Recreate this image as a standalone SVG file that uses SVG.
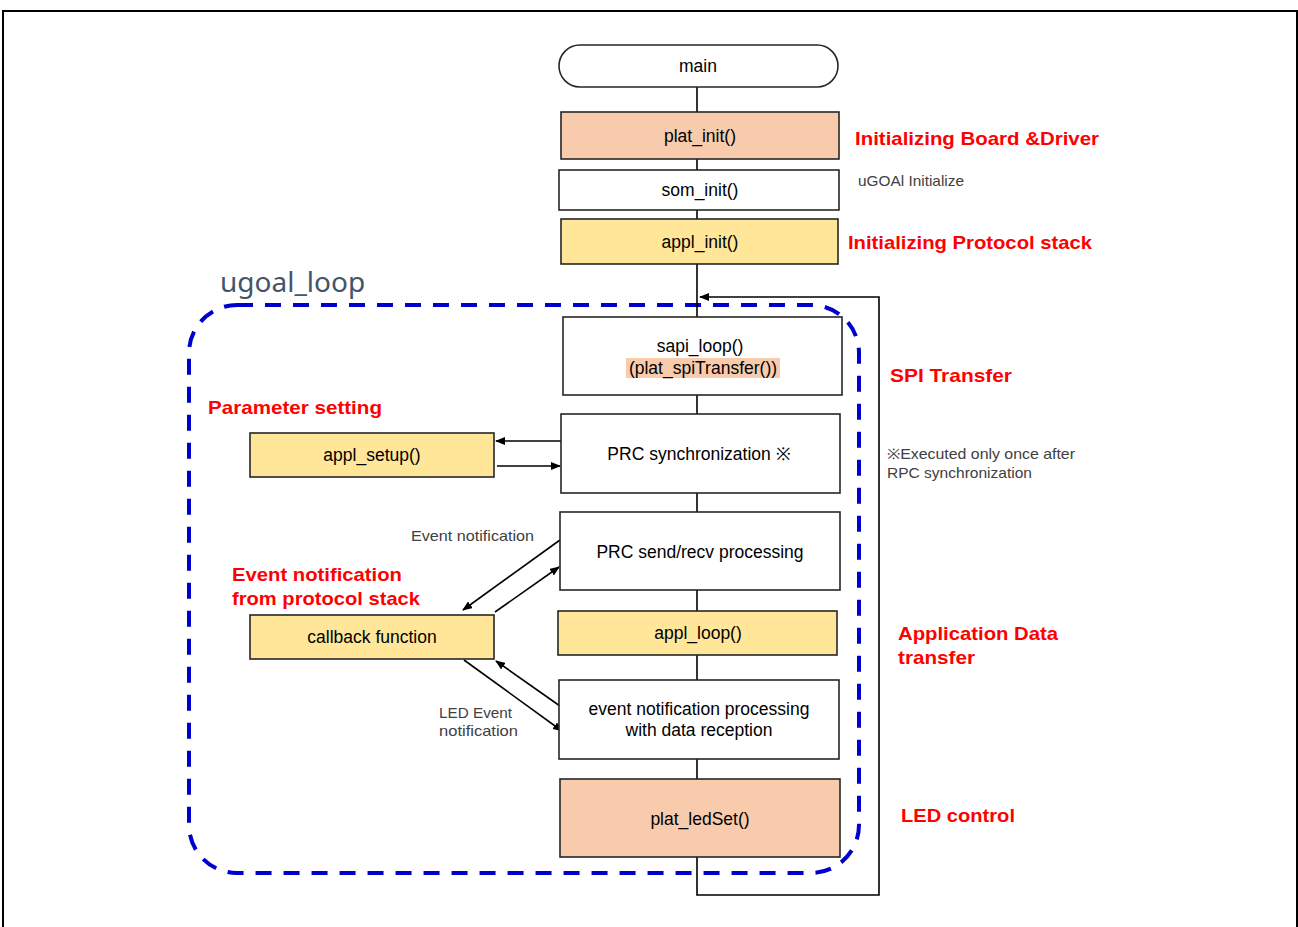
<svg xmlns="http://www.w3.org/2000/svg" width="1298" height="927" viewBox="0 0 1298 927">
<defs>
<marker id="ah" markerWidth="10" markerHeight="8" refX="9" refY="4" orient="auto" markerUnits="userSpaceOnUse">
<path d="M0,0 L10,4 L0,8 Z" fill="#000"/>
</marker>
<style>
.box{stroke:#262626;stroke-width:1.6}
.w{fill:#fff}
.o{fill:#F8CBAD}
.y{fill:#FFE699}
.t{font-family:"Liberation Sans",Arial,sans-serif;font-size:17.5px;fill:#000;text-anchor:middle}
.r{font-family:"Liberation Sans",Arial,sans-serif;font-size:19px;font-weight:bold;fill:#FF0000}
.g{font-family:"Liberation Sans",Arial,sans-serif;font-size:14.5px;fill:#404040}
.ln{stroke:#000;stroke-width:1.6;fill:none}
</style>
</defs>
<rect width="1298" height="927" fill="#fff"/>
<path d="M3,927 V11 H1297 V927" fill="none" stroke="#000" stroke-width="2"/>

<g id="loop-region">
<rect x="189" y="305" width="670" height="568" rx="48" ry="48" fill="none" stroke="#0000CC" stroke-width="4" stroke-dasharray="16,12"/>
<text x="220" y="292" font-family="'Noto Sans','Liberation Sans',sans-serif" font-size="28" fill="#44546A">ugoal_loop</text>
</g>

<g id="connectors">
<path class="ln" d="M697,87 V779"/>
<path class="ln" d="M697,857 V895 H879 V297 H700" marker-end="url(#ah)"/>
<line class="ln" x1="561" y1="441" x2="496" y2="441" marker-end="url(#ah)"/>
<line class="ln" x1="497" y1="466" x2="560" y2="466" marker-end="url(#ah)"/>
<line class="ln" x1="560" y1="540" x2="463" y2="610" marker-end="url(#ah)"/>
<line class="ln" x1="495" y1="612" x2="559" y2="567" marker-end="url(#ah)"/>
<line class="ln" x1="560" y1="706" x2="496" y2="661" marker-end="url(#ah)"/>
<line class="ln" x1="464" y1="660" x2="562" y2="731" marker-end="url(#ah)"/>
</g>

<g id="main">
<rect class="box w" x="559" y="45" width="279" height="42" rx="21" ry="21"/>
<text class="t" x="698" y="72">main</text>
</g>
<g id="plat_init">
<rect class="box o" x="561" y="112" width="278" height="47"/>
<text class="t" x="700" y="142">plat_init()</text>
</g>
<g id="som_init">
<rect class="box w" x="559" y="170" width="280" height="40"/>
<text class="t" x="700" y="196">som_init()</text>
</g>
<g id="appl_init">
<rect class="box y" x="561" y="219" width="277" height="45"/>
<text class="t" x="700" y="248">appl_init()</text>
</g>
<g id="sapi_loop">
<rect class="box w" x="563" y="317" width="279" height="78"/>
<rect x="626" y="358" width="154" height="20" fill="#F8CBAD"/>
<text class="t" x="700" y="352">sapi_loop()</text>
<text class="t" x="703" y="374">(plat_spiTransfer())</text>
</g>
<g id="prc_sync">
<rect class="box w" x="561" y="414" width="279" height="79"/>
<text class="t" x="699" y="460">PRC synchronization ※</text>
</g>
<g id="appl_setup">
<rect class="box y" x="250" y="433" width="244" height="44"/>
<text class="t" x="372" y="461">appl_setup()</text>
</g>
<g id="prc_sendrecv">
<rect class="box w" x="560" y="512" width="280" height="78"/>
<text class="t" x="700" y="558">PRC send/recv processing</text>
</g>
<g id="callback">
<rect class="box y" x="250" y="615" width="244" height="44"/>
<text class="t" x="372" y="643">callback function</text>
</g>
<g id="appl_loop">
<rect class="box y" x="558" y="611" width="279" height="44"/>
<text class="t" x="698" y="639">appl_loop()</text>
</g>
<g id="event_proc">
<rect class="box w" x="559" y="680" width="280" height="79"/>
<text class="t" x="699" y="715">event notification processing</text>
<text class="t" x="699" y="736">with data reception</text>
</g>
<g id="plat_ledSet">
<rect class="box o" x="560" y="779" width="280" height="78"/>
<text class="t" x="700" y="825">plat_ledSet()</text>
</g>

<g id="labels">
<text class="r" x="855" y="145" textLength="244" lengthAdjust="spacingAndGlyphs">Initializing Board &amp;Driver</text>
<text class="g" x="858" y="186" textLength="106" lengthAdjust="spacingAndGlyphs">uGOAl Initialize</text>
<text class="r" x="848" y="249" textLength="244" lengthAdjust="spacingAndGlyphs">Initializing Protocol stack</text>
<text class="r" x="890" y="382" textLength="122" lengthAdjust="spacingAndGlyphs">SPI Transfer</text>
<text class="r" x="208" y="414" textLength="174" lengthAdjust="spacingAndGlyphs">Parameter setting</text>
<text class="g" x="887" y="459" textLength="188" lengthAdjust="spacingAndGlyphs">※Executed only once after</text>
<text class="g" x="887" y="478" textLength="145" lengthAdjust="spacingAndGlyphs">RPC synchronization</text>
<text class="g" x="411" y="541" textLength="123" lengthAdjust="spacingAndGlyphs">Event notification</text>
<text class="r" x="232" y="581" textLength="170" lengthAdjust="spacingAndGlyphs">Event notification</text>
<text class="r" x="232" y="605" textLength="188" lengthAdjust="spacingAndGlyphs">from protocol stack</text>
<text class="r" x="898" y="640" textLength="160" lengthAdjust="spacingAndGlyphs">Application Data</text>
<text class="r" x="898" y="664" textLength="77" lengthAdjust="spacingAndGlyphs">transfer</text>
<text class="g" x="439" y="718" textLength="73" lengthAdjust="spacingAndGlyphs">LED Event</text>
<text class="g" x="439" y="736" textLength="79" lengthAdjust="spacingAndGlyphs">notification</text>
<text class="r" x="901" y="822" textLength="114" lengthAdjust="spacingAndGlyphs">LED control</text>
</g>
</svg>
